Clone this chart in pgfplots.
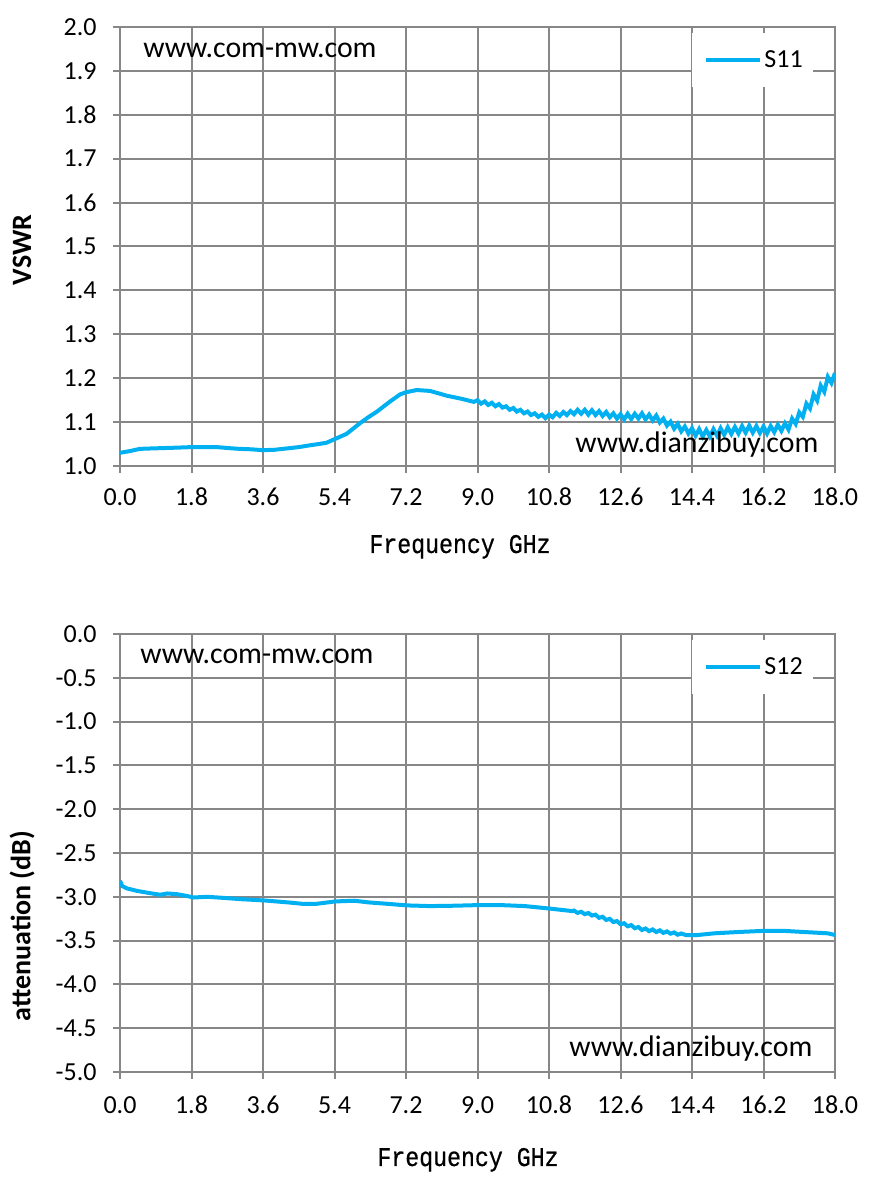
\documentclass[border=0pt]{standalone}
\usepackage{fontspec}
\setmainfont{Carlito}
\newfontfamily\monofont[FakeStretch=0.86,FakeBold=0.6]{Liberation Mono}
\usepackage{pgfplots}
\pgfplotsset{compat=1.18}
\definecolor{sline}{HTML}{00B0F0}
\definecolor{gridc}{HTML}{878787}
\pgfplotsset{
  myaxis/.style={
    scale only axis, width=357.5pt,
    xmin=0, xmax=18,
    xtick={0,1.8,3.6,5.4,7.2,9.0,10.8,12.6,14.4,16.2,18.0},
    xticklabels={0.0,1.8,3.6,5.4,7.2,9.0,10.8,12.6,14.4,16.2,18.0},
    grid=major,
    major grid style={gridc, line width=1pt},
    axis line style={gridc, line width=1pt},
    tick style={gridc, line width=1pt},
    major tick length=3.5pt,
    tick align=outside,
    xtick pos=bottom, ytick pos=left,
    ticklabel style={font=\fontsize{13}{15}\selectfont, inner sep=0pt},
    yticklabel style={anchor=east, xshift=-8pt},
    legend style={at={(rel axis cs:0.800,0.9863)}, anchor=north west,
      draw=none, fill=white, inner xsep=4pt, inner ysep=7.5pt,
      font=\fontsize{13}{15}\selectfont, nodes={inner sep=1pt}},
    legend cell align=left,
    legend image code/.code={\path[draw=none] (0pt,0pt) -- (30pt,0pt); \draw[#1] (3pt,0pt) -- (30pt,0pt);},
  }
}
\begin{document}
\begin{tikzpicture}
\useasboundingbox (0,0) rectangle (437.5pt,593.5pt);
\begin{axis}[myaxis, at={(60pt,360.5pt)}, anchor=south west, height=219.5pt,
  ymin=1.0, ymax=2.0,
  ytick={1.0,1.1,1.2,1.3,1.4,1.5,1.6,1.7,1.8,1.9,2.0},
  yticklabels={1.0,1.1,1.2,1.3,1.4,1.5,1.6,1.7,1.8,1.9,2.0},
  xticklabel style={anchor=center, yshift=-12pt}]
\addplot[sline, line width=2pt] table {
0.00 1.030
0.25 1.034
0.50 1.039
0.80 1.040
1.18 1.041
1.50 1.042
1.80 1.043
2.10 1.043
2.44 1.043
2.70 1.041
3.00 1.039
3.30 1.038
3.60 1.036
3.90 1.037
4.20 1.040
4.50 1.043
4.70 1.046
5.00 1.050
5.20 1.053
5.40 1.061
5.70 1.073
6.05 1.098
6.25 1.111
6.47 1.124
6.80 1.147
7.05 1.163
7.20 1.168
7.47 1.173
7.80 1.171
8.00 1.166
8.23 1.160
8.60 1.153
8.91 1.146
9.00 1.150
9.09 1.142
9.18 1.147
9.27 1.139
9.36 1.144
9.45 1.136
9.54 1.141
9.63 1.133
9.72 1.136
9.81 1.128
9.90 1.132
9.99 1.124
10.08 1.128
10.17 1.120
10.26 1.124
10.35 1.116
10.44 1.120
10.53 1.112
10.62 1.117
10.71 1.109
10.80 1.117
10.89 1.111
10.98 1.121
11.07 1.114
11.16 1.123
11.25 1.116
11.34 1.125
11.43 1.118
11.52 1.128
11.61 1.119
11.70 1.128
11.79 1.117
11.88 1.127
11.97 1.116
12.06 1.125
12.15 1.114
12.24 1.123
12.33 1.111
12.42 1.120
12.51 1.108
12.60 1.118
12.69 1.106
12.78 1.119
12.87 1.107
12.96 1.119
13.05 1.108
13.14 1.120
13.23 1.106
13.32 1.117
13.41 1.104
13.50 1.115
13.59 1.099
13.68 1.108
13.77 1.092
13.86 1.101
13.95 1.085
14.04 1.096
14.13 1.079
14.22 1.090
14.31 1.074
14.40 1.086
14.49 1.069
14.58 1.084
14.67 1.067
14.76 1.082
14.85 1.067
14.94 1.084
15.03 1.069
15.12 1.086
15.21 1.071
15.30 1.088
15.39 1.073
15.48 1.089
15.57 1.074
15.66 1.091
15.75 1.076
15.84 1.092
15.93 1.076
16.02 1.091
16.11 1.075
16.20 1.090
16.29 1.074
16.38 1.091
16.47 1.077
16.56 1.094
16.65 1.080
16.74 1.097
16.83 1.083
16.92 1.108
17.01 1.096
17.10 1.122
17.19 1.112
17.28 1.142
17.37 1.131
17.46 1.163
17.55 1.149
17.64 1.183
17.73 1.169
17.82 1.203
17.91 1.189
18.00 1.212
};
\addlegendentry{S11}
\end{axis}
\begin{axis}[myaxis, at={(60pt,57.5pt)}, anchor=south west, height=219pt,
  ymin=-5.0, ymax=0.0,
  ytick={-5.0,-4.5,-4.0,-3.5,-3.0,-2.5,-2.0,-1.5,-1.0,-0.5,0.0},
  yticklabels={-5.0,-4.5,-4.0,-3.5,-3.0,-2.5,-2.0,-1.5,-1.0,-0.5,0.0},
  xticklabel style={anchor=center, yshift=-13pt}]
\addplot[sline, line width=2pt] table {
0.00 -2.818
0.06 -2.879
0.18 -2.905
0.42 -2.932
0.66 -2.951
1.01 -2.977
1.19 -2.962
1.43 -2.970
1.67 -2.989
1.85 -3.008
2.20 -3.000
2.56 -3.011
3.04 -3.027
3.64 -3.042
4.23 -3.064
4.59 -3.080
4.95 -3.080
5.42 -3.053
5.90 -3.045
6.26 -3.064
6.73 -3.080
7.21 -3.098
7.80 -3.106
8.40 -3.102
9.00 -3.095
9.60 -3.095
10.19 -3.106
10.79 -3.133
11.38 -3.163
11.43 -3.157
11.52 -3.184
11.61 -3.171
11.70 -3.198
11.79 -3.185
11.88 -3.214
11.97 -3.204
12.06 -3.240
12.15 -3.228
12.24 -3.264
12.33 -3.252
12.42 -3.288
12.51 -3.277
12.60 -3.313
12.69 -3.302
12.78 -3.337
12.87 -3.323
12.96 -3.358
13.05 -3.345
13.14 -3.379
13.23 -3.362
13.32 -3.392
13.41 -3.373
13.50 -3.402
13.59 -3.383
13.68 -3.412
13.77 -3.395
13.86 -3.421
13.95 -3.407
14.04 -3.433
14.13 -3.419
14.24 -3.436
14.48 -3.439
14.96 -3.417
15.56 -3.402
16.15 -3.390
16.75 -3.390
17.34 -3.405
17.82 -3.417
18.00 -3.436
};
\addlegendentry{S12}
\end{axis}
% texts
\node[anchor=base west, inner sep=0pt, font=\fontsize{14.9}{16}\selectfont] at (71.5pt,564.5pt) {www.com-mw.com};
\node[anchor=base west, inner sep=0pt, font=\fontsize{14.9}{16}\selectfont] at (287.5pt,367pt) {www.dianzibuy.com};
\node[anchor=base west, inner sep=0pt, font=\fontsize{14.9}{16}\selectfont] at (70pt,261.5pt) {www.com-mw.com};
\node[anchor=base west, inner sep=0pt, font=\fontsize{14.9}{16}\selectfont] at (284.5pt,65.2pt) {www.dianzibuy.com};
\node[rotate=90, inner sep=0pt, font=\bfseries\fontsize{14}{16}\selectfont] at (11pt,468.5pt) {VSWR};
\node[rotate=90, inner sep=0pt, font=\bfseries\fontsize{14}{16}\selectfont] at (11pt,130.5pt) {attenuation (dB)};
\node[anchor=base, inner sep=0pt, font=\monofont\fontsize{13.5}{15}\selectfont] at (230pt,317pt) {Frequency GHz};
\node[anchor=base, inner sep=0pt, font=\monofont\fontsize{13.5}{15}\selectfont] at (234pt,10.5pt) {Frequency GHz};
\end{tikzpicture}
\end{document}
